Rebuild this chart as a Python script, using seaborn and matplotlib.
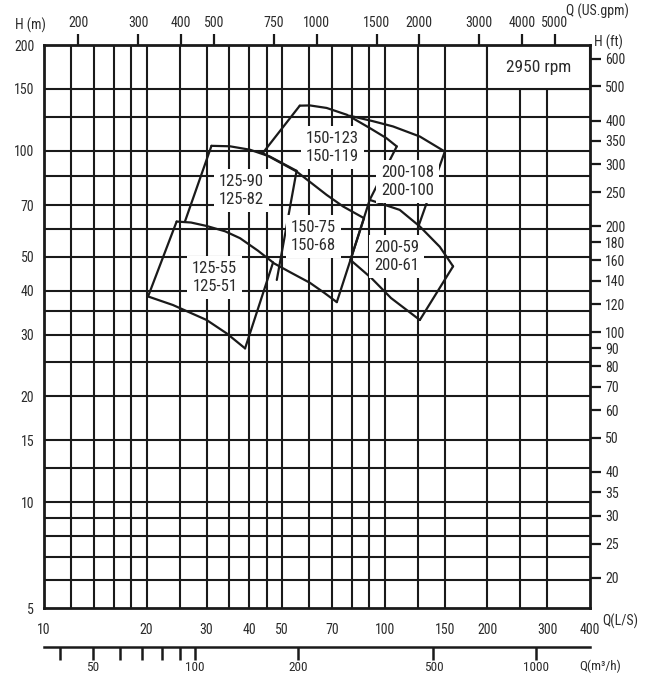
import os
import matplotlib
matplotlib.use("Agg")
import matplotlib.pyplot as plt
from matplotlib import font_manager as fm
from matplotlib.patches import Rectangle
from matplotlib.ticker import NullLocator, FixedLocator
import seaborn as sns

sns.set_theme(style="white")


def narrow_font():
    """Return the first condensed sans face that is installed, if any."""
    wanted = ["liberationsansnarrow-regular", "robotocondensed-regular",
              "notosans-condensed.", "notosans-condensedregular",
              "opensans-condensed", "opensans_condensed-regular",
              "dejavusanscondensed."]
    faces = [(os.path.basename(f.fname).lower(), f) for f in fm.fontManager.ttflist]
    for w in wanted:
        for fn, f in faces:
            if fn.startswith(w):
                return f
    return None


nf = narrow_font()
if nf is not None:
    plt.rcParams["font.family"] = [nf.name, "Liberation Sans", "DejaVu Sans"]
    plt.rcParams["font.stretch"] = nf.stretch
    LBL, TCK = 12.0, 10.0
else:
    plt.rcParams["font.family"] = ["Liberation Sans", "DejaVu Sans"]
    LBL, TCK = 10.5, 9.0

INK = "#1a1a1a"
TXT = "#2b2b2b"

# ---- scales -------------------------------------------------------------
q_ticks = [10, 20, 30, 40, 50, 70, 100, 150, 200, 300, 400]           # L/s
h_ticks = [200, 150, 100, 70, 50, 40, 30, 20, 15, 10, 5]              # m
gpm_ticks = [200, 300, 400, 500, 750, 1000, 1500, 2000, 3000, 4000, 5000]
ft_ticks = [600, 500, 400, 350, 300, 250, 200, 180, 160, 140, 120, 100,
            90, 80, 70, 60, 50, 40, 35, 30, 25, 20]
m3h_ticks = [40, 50, 60, 70, 80, 90, 100, 200, 500, 1000]
m3h_labeled = [50, 100, 200, 500, 1000]

q_grid = [12, 14, 16, 18, 20, 25, 30, 35, 40, 45, 50, 60, 70, 80, 90, 100,
          125, 150, 200, 250, 300]
h_grid = [150, 125, 100, 85, 70, 60, 50, 40, 35, 30, 25, 20, 15, 12.5,
          10, 9, 8, 7, 6]

# ---- performance fields (Q in L/s, H in m) ------------------------------
c125_55_q = [24.5, 27.0, 30.0, 34.0, 37.6, 42.4, 47.0]
c125_55_h = [62.9, 62.5, 61.1, 59.0, 56.4, 52.0, 48.1]
c125_51_q = [20.2, 23.9, 30.0, 34.4, 38.9]
c125_51_h = [38.5, 36.4, 33.0, 30.2, 27.4]

c125_90_q = [31.0, 35.1, 40.2, 46.0, 55.1]
c125_90_h = [103.3, 103.0, 100.7, 96.3, 87.7]
c125_90_left_q = [31.0, 25.9]
c125_90_left_h = [103.3, 62.8]

c150_123_q = [56.3, 60.3, 67.5, 77.4, 90.3, 101.0, 108.4]
c150_123_h = [134.4, 134.6, 132.4, 126.6, 116.1, 108.7, 102.9]
c150_123_left_q = [56.3, 43.9]
c150_123_left_h = [134.4, 98.7]
c150_123_right_q = [108.4, 90.3]
c150_123_right_h = [102.9, 72.5]

c150_75_q = [43.0, 55.1, 67.5, 75.5, 86.9]
c150_75_h = [99.5, 87.3, 74.9, 69.4, 64.3]
c150_75_left_q = [55.1, 48.2]
c150_75_left_h = [87.7, 42.9]
c150_68_q = [47.0, 52.6, 60.3, 66.5, 72.3]
c150_68_h = [48.0, 45.2, 42.1, 39.4, 37.1]
c150_75_right_q = [86.9, 72.3]
c150_75_right_h = [64.3, 37.1]

c200_108_q = [78.9, 92.0, 105.7, 126.7, 150.0]
c200_108_h = [125.8, 121.5, 117.3, 109.8, 99.5]
c200_108_right_q = [150.0, 125.0]
c200_108_right_h = [99.5, 60.3]

c200_59_q = [90.3, 110.6, 126.7, 145.0, 158.6]
c200_59_h = [72.5, 67.9, 60.9, 53.3, 46.9]
c200_61_q = [79.3, 91.4, 104.3, 126.7]
c200_61_h = [48.9, 43.4, 38.1, 33.0]
c200_59_left_q = [90.3, 79.3]
c200_59_left_h = [72.5, 48.9]
c200_59_right_q = [158.6, 126.7]
c200_59_right_h = [46.9, 33.0]

field_labels = [
    ("125-90\n125-82", 38.0, 77.1),
    ("125-55\n125-51", 31.7, 43.7),
    ("150-123\n150-119", 70.2, 102.0),
    ("200-108\n200-100", 116.6, 81.6),
    ("150-75\n150-68", 61.6, 57.0),
    ("200-59\n200-61", 108.2, 50.1),
]

# ---- figure -------------------------------------------------------------
W, H = 651, 680
fig = plt.figure(figsize=(W / 100, H / 100), dpi=100)
x0, x1, y0, y1 = 44, 590, 45, 608
ax = fig.add_axes([x0 / W, 1 - y1 / H, (x1 - x0) / W, (y1 - y0) / H])
ax.set_xscale("log")
ax.set_yscale("log")
ax.set_xlim(10, 400)
ax.set_ylim(5, 200)

for q in q_grid:
    ax.axvline(q, color=INK, lw=1.5, zorder=1)
for h in h_grid:
    ax.axhline(h, color=INK, lw=1.5, zorder=1)

# speed box in the top-right cell
ax.add_patch(Rectangle((200, 150), 200, 50, facecolor="white", edgecolor=INK,
                       lw=1.5, zorder=2))
ax.text(283, 173, "2950 rpm", ha="center", va="center", fontsize=LBL + 0.5,
        color=TXT, zorder=6)


def trace(qs, hs):
    sns.lineplot(x=qs, y=hs, sort=False, estimator=None, color=INK, lw=1.6,
                 ax=ax, zorder=3)


for qs, hs in [
    (c125_55_q, c125_55_h), (c125_51_q, c125_51_h),
    ([c125_55_q[0], c125_51_q[0]], [c125_55_h[0], c125_51_h[0]]),
    ([c125_55_q[-1], c125_51_q[-1]], [c125_55_h[-1], c125_51_h[-1]]),
    (c125_90_q, c125_90_h), (c125_90_left_q, c125_90_left_h),
    (c150_123_q, c150_123_h), (c150_123_left_q, c150_123_left_h),
    (c150_123_right_q, c150_123_right_h),
    (c150_75_q, c150_75_h), (c150_75_left_q, c150_75_left_h),
    (c150_68_q, c150_68_h), (c150_75_right_q, c150_75_right_h),
    (c200_108_q, c200_108_h), (c200_108_right_q, c200_108_right_h),
    (c200_59_q, c200_59_h), (c200_61_q, c200_61_h),
    (c200_59_left_q, c200_59_left_h), (c200_59_right_q, c200_59_right_h),
]:
    trace(qs, hs)

for txt, q, h in field_labels:
    ax.text(q, h, txt, ha="center", va="center", fontsize=LBL, color=TXT,
            linespacing=1.25, zorder=5,
            bbox=dict(boxstyle="square,pad=0.3", fc="white", ec="none"))

for s in ax.spines.values():
    s.set_visible(True)
    s.set_color(INK)
    s.set_linewidth(2)
ax.set_facecolor("white")

# left H(m) labels and bottom Q(L/s) labels
ax.yaxis.set_major_locator(FixedLocator(h_ticks))
ax.yaxis.set_minor_locator(NullLocator())
ax.set_yticklabels([str(v) for v in h_ticks])
ax.xaxis.set_major_locator(FixedLocator(q_ticks))
ax.xaxis.set_minor_locator(NullLocator())
ax.set_xticklabels([str(v) for v in q_ticks])
ax.tick_params(axis="y", length=0, pad=7, labelsize=TCK, labelcolor=TXT)
ax.tick_params(axis="x", length=0, pad=11, labelsize=TCK, labelcolor=TXT)
ax.grid(False)

# top: US gpm
top = ax.secondary_xaxis("top", functions=(lambda q: q * 15.850, lambda g: g / 15.850))
top.xaxis.set_major_locator(FixedLocator(gpm_ticks))
top.xaxis.set_minor_locator(NullLocator())
top.set_xticklabels([str(v) for v in gpm_ticks])
top.tick_params(direction="out", length=8, width=1.6, color=INK, pad=3,
                labelsize=TCK, labelcolor=TXT)
top.spines["top"].set_visible(False)

# right: H in feet
right = ax.secondary_yaxis("right", functions=(lambda m: m / 0.3048, lambda f: f * 0.3048))
right.yaxis.set_major_locator(FixedLocator(ft_ticks))
right.yaxis.set_minor_locator(NullLocator())
right.set_yticklabels([str(v) for v in ft_ticks])
right.tick_params(direction="out", length=8, width=1.6, color=INK, pad=3,
                  labelsize=TCK, labelcolor=TXT)
right.spines["right"].set_visible(False)

# separate flow scale below the chart: L/s up, m3/h down
yb = 647
sc = fig.add_axes([x0 / W, 1 - yb / H, (x1 - x0) / W, 0.0001])
sc.set_xscale("log")
sc.set_xlim(10, 400)
sc.patch.set_visible(False)
for k in ["top", "left", "right"]:
    sc.spines[k].set_visible(False)
sc.spines["bottom"].set_color(INK)
sc.spines["bottom"].set_linewidth(1.8)
sc.set_yticks([])
sc.xaxis.set_major_locator(FixedLocator(q_ticks))
sc.xaxis.set_minor_locator(NullLocator())
sc.tick_params(axis="x", direction="in", length=10, width=1.8, color=INK,
               labelbottom=False)
m3 = sc.secondary_xaxis("bottom", functions=(lambda q: q * 3.6, lambda m: m / 3.6))
m3.xaxis.set_major_locator(FixedLocator(m3h_ticks))
m3.xaxis.set_minor_locator(NullLocator())
m3.set_xticklabels([str(v) if v in m3h_labeled else "" for v in m3h_ticks])
m3.tick_params(direction="out", length=9, width=1.8, color=INK, pad=1,
               labelsize=TCK - 0.5, labelcolor=TXT)
m3.spines["bottom"].set_visible(False)

# axis titles
fig.text(30 / W, 1 - 25 / H, "H (m)", ha="center", va="center", fontsize=TCK, color=TXT)
fig.text(597 / W, 1 - 11 / H, "Q (US.gpm)", ha="center", va="center", fontsize=TCK, color=TXT)
fig.text(608 / W, 1 - 42 / H, "H (ft)", ha="center", va="center", fontsize=TCK, color=TXT)
fig.text(620 / W, 1 - 621 / H, "Q(L/S)", ha="center", va="center", fontsize=TCK, color=TXT)
fig.text(600 / W, 1 - 666 / H, "Q(m³/h)", ha="center", va="center", fontsize=TCK - 0.5, color=TXT)

fig.savefig("out.png", dpi=100, facecolor="white")
